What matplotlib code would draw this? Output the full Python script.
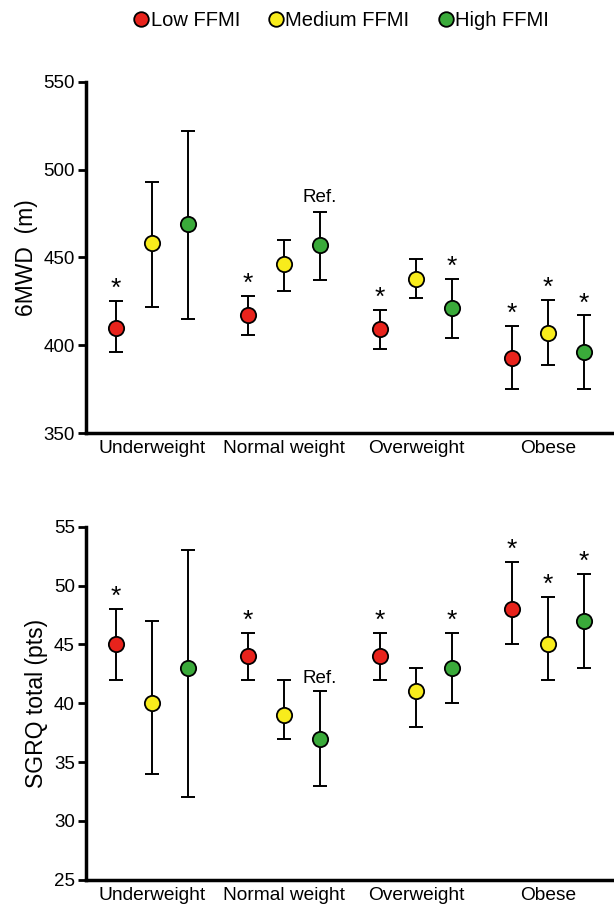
import numpy as np
import matplotlib
matplotlib.use("Agg")
import matplotlib.pyplot as plt
from matplotlib.lines import Line2D

plt.rcParams["font.family"] = ["Liberation Sans", "DejaVu Sans"]

# ---------------------------------------------------------------------------
# Data
# ---------------------------------------------------------------------------
categories = ["Underweight", "Normal weight", "Overweight", "Obese"]
groups = ["Low FFMI", "Medium FFMI", "High FFMI"]
colors = ["#e8231c", "#f8ec1c", "#3aaa3a"]

# 6MWD (m): mean, lower, upper  -> rows = FFMI group, cols = BMI category
mwd_mean  = [[410, 417, 409, 393],
             [458, 446, 438, 407],
             [469, 457, 421, 396]]
mwd_low   = [[396, 406, 398, 375],
             [422, 431, 427, 389],
             [415, 437, 404, 375]]
mwd_high  = [[425, 428, 420, 411],
             [493, 460, 449, 426],
             [522, 476, 438, 417]]
mwd_star  = [[1, 1, 1, 1],
             [0, 0, 0, 1],
             [0, 0, 1, 1]]

# SGRQ total (pts)
sgrq_mean = [[45, 44, 44, 48],
             [40, 39, 41, 45],
             [43, 37, 43, 47]]
sgrq_low  = [[42, 42, 42, 45],
             [34, 37, 38, 42],
             [32, 33, 40, 43]]
sgrq_high = [[48, 46, 46, 52],
             [47, 42, 43, 49],
             [53, 41, 46, 51]]
sgrq_star = [[1, 1, 1, 1],
             [0, 0, 0, 1],
             [0, 0, 1, 1]]

ref_cat, ref_group = 1, 2   # Normal weight / High FFMI is the reference


# ---------------------------------------------------------------------------
# Plotting
# ---------------------------------------------------------------------------
fig = plt.figure(figsize=(6.14, 9.08), dpi=100)
ax_top = fig.add_axes([0.140, 0.523, 0.860, 0.387])
ax_bot = fig.add_axes([0.140, 0.031, 0.860, 0.389])

offsets = [-0.273, 0.0, 0.273]
xc = np.arange(len(categories)) + 0.5


def draw_panel(ax, mean, low, high, star, ylim, yticks, ylabel, star_pad, ref_pad):
    for g in range(len(groups)):
        m = np.array(mean[g], dtype=float)
        lo = m - np.array(low[g])
        hi = np.array(high[g]) - m
        x = xc + offsets[g]
        ax.errorbar(x, m, yerr=[lo, hi], fmt="none", ecolor="black",
                    elinewidth=1.4, capsize=5, capthick=1.4, zorder=2)
        ax.plot(x, m, "o", markersize=11, markerfacecolor=colors[g],
                markeredgecolor="black", markeredgewidth=1.3, zorder=3)
        for k in range(len(categories)):
            if star[g][k]:
                ax.text(x[k], high[g][k] + star_pad, "*", ha="center",
                        va="bottom", fontsize=19)
    xr = xc[ref_cat] + offsets[ref_group]
    ax.text(xr, high[ref_group][ref_cat] + ref_pad, "Ref.", ha="center",
            va="bottom", fontsize=13.5)

    ax.set_xlim(0, len(categories))
    ax.set_ylim(*ylim)
    ax.set_yticks(yticks)
    ax.set_xticks(xc)
    ax.set_xticklabels(categories, fontsize=13.8)
    ax.tick_params(axis="x", length=0, pad=5)
    ax.tick_params(axis="y", length=6, width=2, labelsize=13.5, pad=2)
    ax.set_ylabel(ylabel, fontsize=16.5, labelpad=4)
    for s in ["top", "right"]:
        ax.spines[s].set_visible(False)
    for s in ["left", "bottom"]:
        ax.spines[s].set_linewidth(2.5)


draw_panel(ax_top, mwd_mean, mwd_low, mwd_high, mwd_star,
           (350, 550), range(350, 551, 50), "6MWD  (m)", 0, 3)
draw_panel(ax_bot, sgrq_mean, sgrq_low, sgrq_high, sgrq_star,
           (25, 55), range(25, 56, 5), "SGRQ total (pts)", 0.0, 0.4)

handles = [Line2D([0], [0], marker="o", linestyle="none", markersize=10.5,
                  markerfacecolor=c, markeredgecolor="black",
                  markeredgewidth=1.3) for c in colors]
fig.legend(handles, groups, loc="upper center", bbox_to_anchor=(0.552, 1.008),
           ncol=3, frameon=False, fontsize=14.5, handletextpad=-0.15,
           columnspacing=1.2, handlelength=1.2)

plt.savefig("out.png", dpi=100, facecolor="white")
